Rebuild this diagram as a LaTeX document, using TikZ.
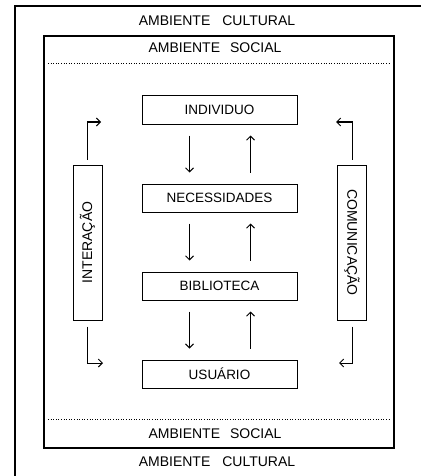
\documentclass[tikz,border=0pt]{standalone}
\usepackage{fontspec}
\setmainfont{Liberation Sans}
\usetikzlibrary{arrows.meta}
\tikzset{
    caixa/.style = {
        draw,
        line width     = 1pt,
        minimum width  = 155pt,
        minimum height = 28pt,
        inner sep      = 0pt,
        font           = \fontsize{13.5}{16}\selectfont,
    },
    lateral/.style = {
        draw,
        line width     = 1pt,
        minimum width  = 155pt,
        minimum height = 29pt,
        inner sep      = 0pt,
        font           = \fontsize{14}{16}\selectfont,
    },
    ambiente/.style = {
        inner sep = 0pt,
        font      = \fontsize{14}{16}\selectfont,
    },
    seta/.style = {-{Straight Barb[length=4pt, width=8pt]}, line width=1pt},
}

\begin{document}
\begin{tikzpicture}[x=1pt, y=-1pt]
        \useasboundingbox (0,0) rectangle (421,476);

        % molduras
        \draw [line width=1.3pt] (15,476) -- (15,6) -- (421,6);
        \draw [line width=1.3pt] (44,36) rectangle (394,448);
        \draw [dotted, line width=0.6pt] (48,63) -- (390,63);
        \draw [dotted, line width=0.6pt] (48,419) -- (390,419);

        \node (culturalTop) [ambiente] at (217,21) {AMBIENTE\hspace{12pt}CULTURAL};
        \node (socialTop) [ambiente] at (215,48) {AMBIENTE\hspace{10pt}SOCIAL};
        \node (socialBot) [ambiente] at (215,434) {AMBIENTE\hspace{10pt}SOCIAL};
        \node (culturalBot) [ambiente] at (217,462) {AMBIENTE\hspace{12pt}CULTURAL};

        % caixas centrais
        \node (individuo) [caixa] at (219.5,110) {INDIVIDUO};
        \node (necessidades) [caixa] at (219.5,198) {NECESSIDADES};
        \node (biblioteca) [caixa] at (219.5,286) {BIBLIOTECA};
        \node (usuario) [caixa] at (219.5,374) {USUÁRIO};

        \foreach \a/\b in {individuo/necessidades, necessidades/biblioteca, biblioteca/usuario} {
            \draw [seta] ([xshift=-30pt, yshift=-11pt]\a.south) -- ([xshift=-30pt, yshift=11pt]\b.north);
            \draw [seta] ([xshift=31pt, yshift=11pt]\b.north) -- ([xshift=31pt, yshift=-11pt]\a.south);
        }

        % caixas laterais
        \node (interacao) [lateral, rotate=90] at (87.5,242.5) {INTERAÇÃO};
        \node (comunicacao) [lateral, rotate=-90] at (352,242.5) {COMUNICAÇÃO};

        \coordinate (intA) at (101,122);
        \coordinate (intB) at (103,363);
        \coordinate (comA) at (336,122);
        \coordinate (comB) at (339,363);

        \draw [seta] ([yshift=5pt]interacao.east) |- (intA);
        \draw [seta] ([yshift=-6pt]interacao.west) |- (intB);
        \draw [seta] ([yshift=5pt]comunicacao.west) |- (comA);
        \draw [seta] ([yshift=-6pt]comunicacao.east) |- (comB);

\end{tikzpicture}
\end{document}
